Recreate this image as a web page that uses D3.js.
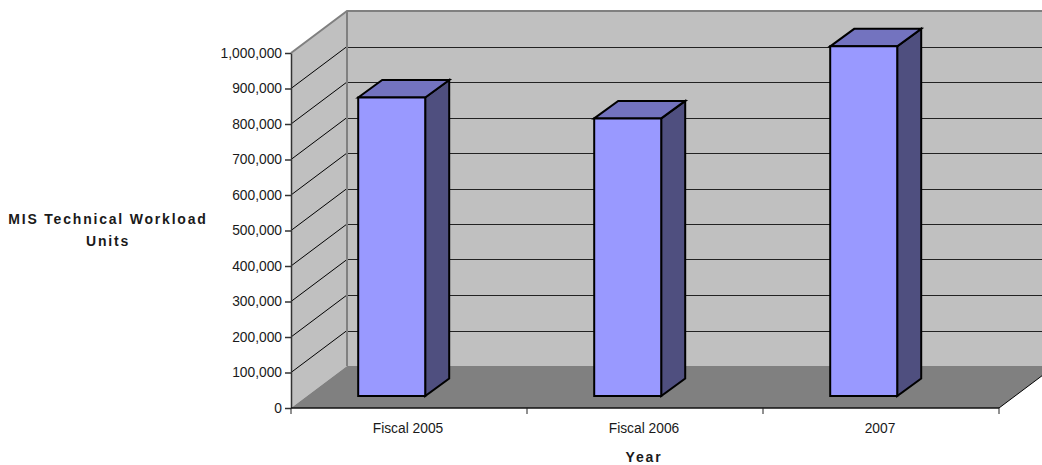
<!DOCTYPE html>
<html>
<head>
<meta charset="utf-8">
<style>
  html, body { margin: 0; padding: 0; background: #fff; }
  svg { display: block; }
  text { font-family: "Liberation Sans", Arial, sans-serif; fill: #1a1a1a; }
</style>
<script src="https://cdn.jsdelivr.net/npm/d3@7/dist/d3.min.js"></script>
</head>
<body>
<svg id="chart" width="1042" height="465"></svg>
<script>
const categories = ["Fiscal 2005", "Fiscal 2006", "2007"];
const workload = [841000, 782000, 985000];
const yTicks = [0, 100000, 200000, 300000, 400000, 500000, 600000, 700000, 800000, 900000, 1000000];
const yTitleLines = ["MIS Technical Workload", "Units"];
const xTitle = "Year";

const W = 1042, H = 465;
const svg = d3.select("#chart").attr("viewBox", [0, 0, W, H]);

const x = d3.scalePoint().domain(d3.range(categories.length + 1)).range([291, 999]);
const band = d3.scaleBand().domain(categories).range([291, 999]);
const y = d3.scaleLinear().domain([0, 1000000]).range([408, 53]);

// Oblique projection: the chart box recedes by this much
const depthX = 56, depthY = -42;
// Bars sit part-way into the box, with their own shallower depth
const barInsetX = -17.3, barInsetY = -12, barWidth = 67, barDepthX = 24, barDepthY = -17.5;

const pts = a => a.map(p => p.join(",")).join(" ");
const y0 = y(0), yMax = y(1000000);
const left = x(0), right = x(categories.length);

// Walls and floor
const box = svg.append("g");
box.append("polygon").attr("fill", "#c0c0c0")
  .attr("points", pts([[left + depthX, yMax + depthY], [W, yMax + depthY], [W, y0 + depthY], [left + depthX, y0 + depthY]]));
box.append("polygon").attr("fill", "#c0c0c0")
  .attr("points", pts([[left, yMax], [left + depthX, yMax + depthY], [left + depthX, y0 + depthY], [left, y0]]));
box.append("polygon").attr("fill", "#808080")
  .attr("points", pts([[left, y0], [left + depthX, y0 + depthY], [right + depthX, y0 + depthY], [right, y0]]));

// Gridlines run up the side wall, then across the back wall
const grid = yTicks.slice(1, -1);
box.selectAll("line.side").data(grid).join("line").attr("class", "side")
  .attr("x1", left).attr("x2", left + depthX)
  .attr("y1", d => y(d)).attr("y2", d => y(d) + depthY)
  .attr("stroke", "#000").attr("stroke-width", 1);
box.selectAll("line.back").data(grid).join("line").attr("class", "back")
  .attr("x1", left + depthX).attr("x2", W)
  .attr("y1", d => Math.round(y(d) + depthY) + 0.5).attr("y2", d => Math.round(y(d) + depthY) + 0.5)
  .attr("stroke", "#222").attr("stroke-width", 1);

// Grey frame along the top and rear edges of the box
box.append("polyline").attr("fill", "none").attr("stroke", "#808080").attr("stroke-width", 2)
  .attr("points", pts([[left, yMax], [left + depthX, yMax + depthY], [W, yMax + depthY]]));
box.append("line").attr("stroke", "#808080").attr("stroke-width", 2)
  .attr("x1", left + depthX).attr("x2", left + depthX)
  .attr("y1", yMax + depthY).attr("y2", y0 + depthY);

// Front-right edge of the floor
box.append("line").attr("stroke", "#000").attr("stroke-width", 1)
  .attr("x1", right).attr("y1", y0).attr("x2", right + depthX).attr("y2", y0 + depthY);

// Bars: front, top and side faces
const bars = svg.append("g").selectAll("g").data(categories.map((c, i) => ({ c, v: workload[i] }))).join("g");
const fx = d => band(d.c) + band.bandwidth() / 2 + barInsetX - barWidth / 2;
const ftop = d => y(d.v) + barInsetY;
const fbot = y0 + barInsetY;
const edge = { stroke: "#000", "stroke-width": 2, "stroke-linejoin": "miter" };
const face = (sel, fill, points) => {
  const p = sel.append("polygon").attr("fill", fill).attr("points", points);
  Object.entries(edge).forEach(([k, v]) => p.attr(k, v));
};
bars.each(function (d) {
  const g = d3.select(this), a = fx(d), b = a + barWidth, t = ftop(d);
  face(g, "#4f4f7f", pts([[b, t], [b + barDepthX, t + barDepthY], [b + barDepthX, fbot + barDepthY], [b, fbot]]));
  face(g, "#7373bf", pts([[a, t], [a + barDepthX, t + barDepthY], [b + barDepthX, t + barDepthY], [b, t]]));
  face(g, "#9999ff", pts([[a, t], [b, t], [b, fbot], [a, fbot]]));
});

// Value axis
const yAxis = svg.append("g").attr("transform", `translate(${left},0)`)
  .call(d3.axisLeft(y).tickValues(yTicks).tickFormat(d3.format(",")).tickSize(6).tickSizeOuter(0).tickPadding(3));
yAxis.selectAll("text").attr("font-size", 13.8).style("font-family", '"Liberation Sans", Arial, sans-serif').style("fill", "#1a1a1a");
yAxis.selectAll("line, path").attr("stroke", "#333").attr("stroke-width", 1.5);

// Category axis: ticks mark the band edges, labels sit mid-band
const xAxis = svg.append("g").attr("transform", `translate(0,${y0})`);
xAxis.append("line").attr("x1", left).attr("x2", right).attr("stroke", "#111").attr("stroke-width", 1.5);
xAxis.selectAll("line.tick").data(d3.range(categories.length + 1)).join("line").attr("class", "tick")
  .attr("x1", d => x(d)).attr("x2", d => x(d)).attr("y1", 0).attr("y2", 6)
  .attr("stroke", "#222").attr("stroke-width", 1);
xAxis.selectAll("text").data(categories).join("text")
  .attr("x", d => band(d) + band.bandwidth() / 2 - 1).attr("y", 24.5)
  .attr("text-anchor", "middle").attr("font-size", 13.8).text(d => d);

// Axis titles
svg.selectAll("text.ytitle").data(yTitleLines).join("text").attr("class", "ytitle")
  .attr("x", 108).attr("y", (d, i) => 223.5 + i * 22.5)
  .attr("text-anchor", "middle").attr("font-size", 14).attr("font-weight", "bold")
  .attr("letter-spacing", 1.8).text(d => d);
svg.append("text").attr("x", 644).attr("y", 462)
  .attr("text-anchor", "middle").attr("font-size", 14).attr("font-weight", "bold")
  .attr("letter-spacing", 1.8).text(xTitle);
</script>
</body>
</html>
